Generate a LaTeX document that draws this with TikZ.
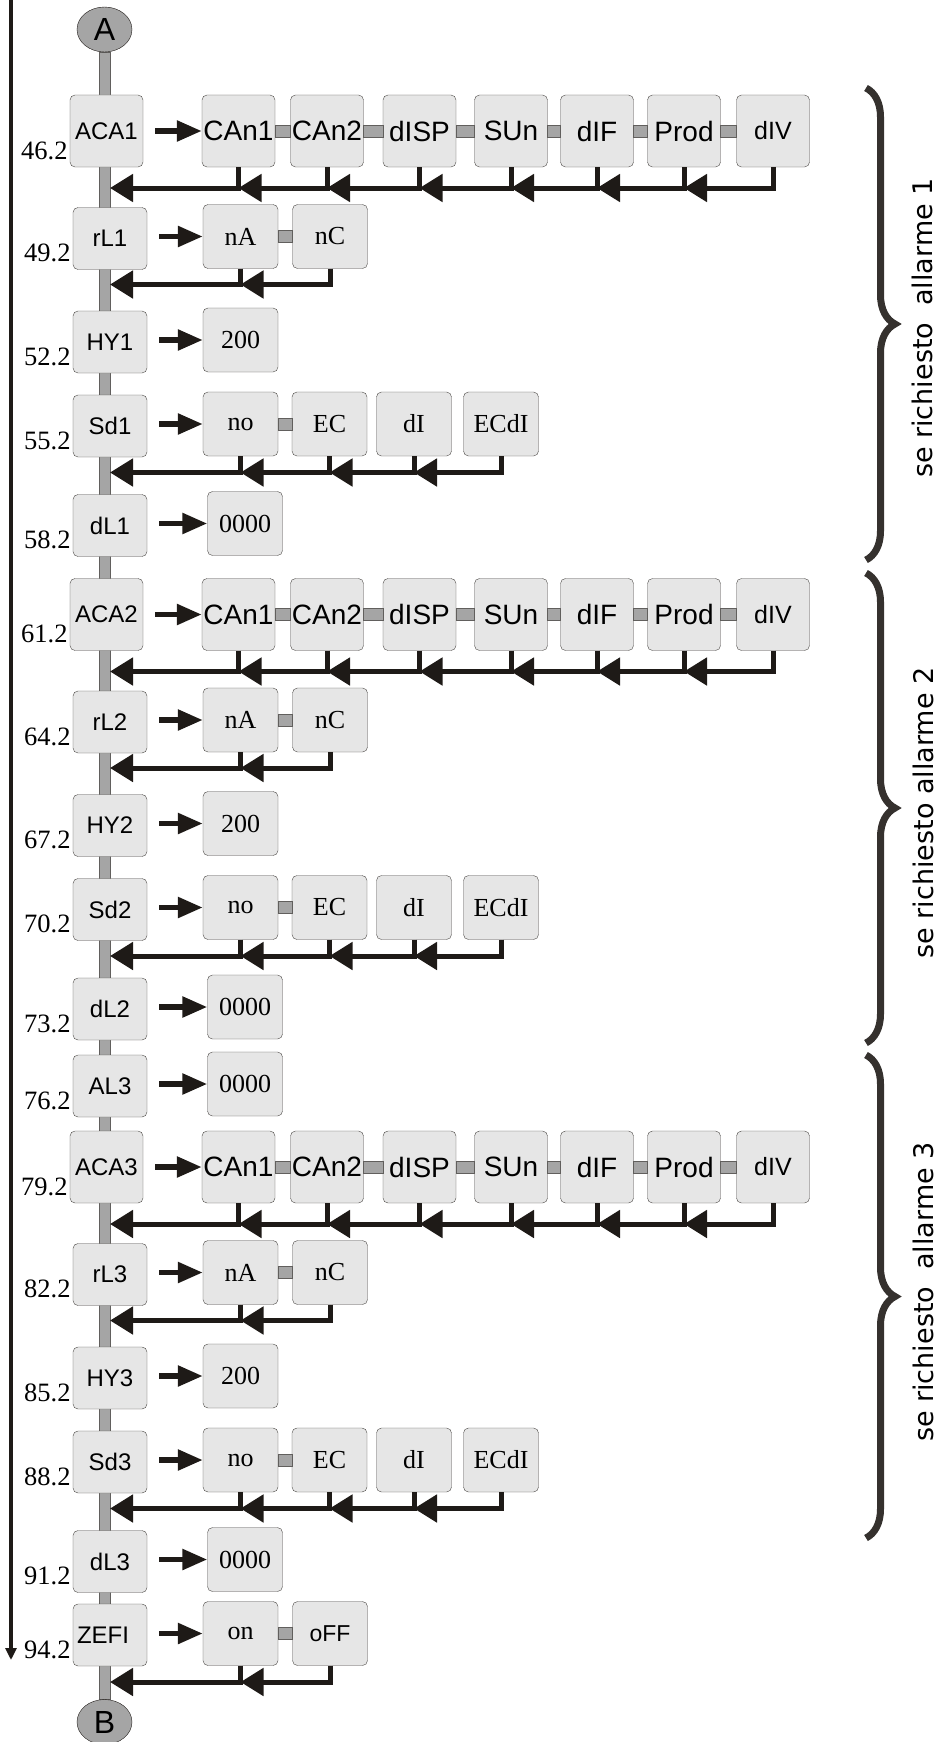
\documentclass[tikz,border=0pt]{standalone}
\usepackage{fontspec}
\setmainfont{Liberation Serif}
\setsansfont{Liberation Sans}
\newfontfamily\notefont{DejaVu Sans}
\usepackage{xcolor}
\usetikzlibrary{arrows.meta,backgrounds,shapes.geometric,decorations.pathreplacing}

\definecolor{boxgray}{RGB}{230,230,230}
\definecolor{bargray}{RGB}{165,165,165}
\definecolor{ink}{RGB}{30,26,23}

\begin{document}
\begin{tikzpicture}[x=1pt, y=-1pt,
    key/.style={draw=ink!80, fill=boxgray, rounded corners=5pt, inner sep=0pt, minimum width=74pt, minimum height=62pt, font=\sffamily\fontsize{24}{24}\selectfont},
    wide/.style={key, minimum width=73pt, minimum height=72pt},
    val/.style={draw=ink!80, fill=boxgray, rounded corners=5pt, inner sep=0pt, minimum width=75pt, minimum height=64pt, font=\fontsize{26}{26}\selectfont},
    opt/.style={val, minimum width=73pt, minimum height=72pt, font=\sffamily\fontsize{28}{28}\selectfont},
    num/.style={anchor=base east, inner sep=0pt, font=\fontsize{26.5}{26.5}\selectfont},
    bar/.style={draw=ink!70, line width=0.6pt, fill=bargray},
    fwd/.style={-{Triangle[length=25pt,width=20pt]}, line width=5.5pt, draw=ink, shorten <=12pt},
    ret/.style={-{Triangle[length=23pt,width=27pt]}, line width=5pt, draw=ink},
    ends/.style={ellipse, draw=ink, fill=bargray, minimum width=55pt, minimum height=45pt, inner sep=0pt, font=\sffamily\fontsize{32}{32}\selectfont},
    brace/.style={decorate, decoration={brace, amplitude=29pt, aspect=0.5}, draw=ink!90, line width=7pt},
    note/.style={rotate=90, font=\notefont\fontsize{27}{27}\selectfont}]
    \useasboundingbox (0,0) rectangle (946,1742);

    % menu entry and exit
    \node[ends] (A) at (104.5,29.5) {A};
    \node[ends] (B) at (104.5,1722) {B};
    \coordinate (top) at (11,0);
    \coordinate (bottom) at (11,1660);
    \draw[-{Triangle[length=12pt,width=11pt]}, line width=4pt, draw=ink] (top) -- (bottom);

    % one block of parameters for each alarm
    \foreach \n/\y/\na/\nb/\nc/\nd/\ne in {1/131/46.2/49.2/52.2/55.2/58.2, 2/614.5/61.2/64.2/67.2/70.2/73.2, 3/1167/79.2/82.2/85.2/88.2/91.2} {
        \begin{scope}[shift={(0,\y)}]
            \node[wide] (aca\n) at (106.5,0) {ACA\n};
            \node[key] (rl\n) at (110,107.5) {rL\n};
            \node[key] (hy\n) at (110,211) {HY\n};
            \node[key] (sd\n) at (110,295) {Sd\n};
            \node[key] (dl\n) at (110,394.5) {dL\n};

            \node[opt] (can1\n) at (238.5,0) {CAn1};
            \node[opt] (can2\n) at (327,0) {CAn2};
            \node[opt] (disp\n) at (419.5,0) {dISP};
            \node[opt] (sun\n) at (511,0) {SUn};
            \node[opt] (dif\n) at (597,0) {dIF};
            \node[opt] (prod\n) at (684,0) {Prod};
            \node[opt, font=\sffamily\fontsize{25}{25}\selectfont] (div\n) at (773,0) {dIV};
            \node[val] (na\n) at (240.5,105.5) {nA};
            \node[val] (nc\n) at (330,105.5) {nC};
            \node[val] (hv\n) at (240.5,209) {200};
            \node[val] (no\n) at (240.5,293) {no};
            \node[val] (ec\n) at (329.5,293) {EC};
            \node[val] (di\n) at (414,293) {dI};
            \node[val] (ecdi\n) at (501,293) {ECdI};
            \node[val] (dv\n) at (245,392.5) {0000};

            \coordinate (ra\n) at (110,57);
            \coordinate (rb\n) at (110,153.5);
            \coordinate (rc\n) at (110,341.5);
        \end{scope}

        \node[num] (naca\n) at ([xshift=-2pt,yshift=8pt]aca\n.south west) {\na};
        \node[num] (nrl\n) at ([xshift=-2pt,yshift=8pt]rl\n.south west) {\nb};
        \node[num] (nhy\n) at ([xshift=-2pt,yshift=8pt]hy\n.south west) {\nc};
        \node[num] (nsd\n) at ([xshift=-2pt,yshift=8pt]sd\n.south west) {\nd};
        \node[num] (ndl\n) at ([xshift=-2pt,yshift=8pt]dl\n.south west) {\ne};

        \draw[fwd] (aca\n.east |- can1\n.west) -- (can1\n.west);
        \draw[fwd] (rl\n.east |- na\n.west) -- (na\n.west);
        \draw[fwd] (hy\n.east |- hv\n.west) -- (hv\n.west);
        \draw[fwd] (sd\n.east |- no\n.west) -- (no\n.west);
        \draw[fwd] (dl\n.east |- dv\n.west) -- (dv\n.west);

        \foreach \p/\q in {can1/can2, can2/disp, disp/sun, sun/dif, dif/prod, prod/div, na/nc, no/ec}
            \draw[bar] ([yshift=6pt]\p\n.east) rectangle ([yshift=-6pt]\q\n.west);

        % back to the parameter
        \foreach \p/\q in {div/prod, prod/dif, dif/sun, sun/disp, disp/can2, can2/can1}
            \draw[ret] (\p\n.south) |- (\q\n.south |- ra\n);
        \draw[ret] (can1\n.south) |- (ra\n);
        \draw[ret] (nc\n.south) |- (na\n.south |- rb\n);
        \draw[ret] (na\n.south) |- (rb\n);
        \foreach \p/\q in {ecdi/di, di/ec, ec/no}
            \draw[ret] (\p\n.south) |- (\q\n.south |- rc\n);
        \draw[ret] (no\n.south) |- (rc\n);
    }

    % alarm 3 level and last entry
    \node[key] (al3) at (110,1086) {AL3};
    \node[val] (alv) at (245,1084) {0000};
    \node[num] (nal3) at ([xshift=-2pt,yshift=8pt]al3.south west) {76.2};
    \draw[fwd] (al3.east |- alv.west) -- (alv.west);

    \node[key, text width=66pt, align=left] (zefi) at (110,1635) {ZEFI};
    \node[val] (on) at (240.5,1633.5) {on};
    \node[val, font=\sffamily\fontsize{23}{23}\selectfont] (off) at (330,1633.5) {oFF};
    \node[num] (nzefi) at ([xshift=-2pt,yshift=8pt]zefi.south west) {94.2};
    \coordinate (rz) at (110,1682);
    \draw[fwd] (zefi.east |- on.west) -- (on.west);
    \draw[bar] ([yshift=6pt]on.east) rectangle ([yshift=-6pt]off.west);
    \draw[ret] (off.south) |- (on.south |- rz);
    \draw[ret] (on.south) |- (rz);

    \begin{scope}[on background layer]
        \draw[bar] ([xshift=-5.5pt]A.south) rectangle ([xshift=5.5pt]B.north);
    \end{scope}

    % braces for the three alarms
    \coordinate (b1t) at (866,88);
    \coordinate (b1b) at (866,560);
    \coordinate (b2t) at (866,573);
    \coordinate (b2b) at (866,1043);
    \coordinate (b3t) at (866,1055);
    \coordinate (b3b) at (866,1538);
    \draw[brace] (b1t) -- (b1b);
    \draw[brace] (b2t) -- (b2b);
    \draw[brace] (b3t) -- (b3b);
    \node[note] (t1) at (922,328) {se richiesto\ \ allarme 1};
    \node[note] (t2) at (923,813) {se richiesto allarme 2};
    \node[note] (t3) at (923,1292) {se richiesto\ \ allarme 3};
\end{tikzpicture}
\end{document}
